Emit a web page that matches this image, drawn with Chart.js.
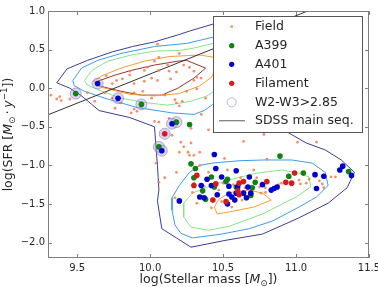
<!DOCTYPE html>
<html>
<head>
<meta charset="utf-8">
<script src="https://cdn.jsdelivr.net/npm/chart.js@4.4.0/dist/chart.umd.min.js"></script>
<style>
  html, body { margin: 0; padding: 0; background: #fff; }
  #wrap { width: 378px; height: 287px; }
</style>
</head>
<body>
<div id="wrap"><canvas id="myChart"></canvas></div>
<script>
// axis ticks
var xTicks = [9.5, 10.0, 10.5, 11.0, 11.5];
var yTicks = [-2.0, -1.5, -1.0, -0.5, 0.0, 0.5, 1.0];

var legendNames = ['Field', 'A399', 'A401', 'Filament', 'W2-W3>2.85', 'SDSS main seq.'];

// galaxies: [log M*, log SFR]
var field = [
    [9.32,-0.09],[9.36,-0.14],[9.38,-0.11],[9.39,-0.16],[9.45,-0.14],[9.57,-0.06],[9.62,-0.17],[9.69,-0.06],
    [9.70,0.16],[9.74,0.06],[9.74,-0.13],[9.76,-0.26],[9.77,0.10],[9.80,-0.19],[9.81,0.12],[9.86,0.22],
    [9.86,0.17],[9.87,-0.32],[9.89,0.06],[9.89,-0.06],[9.91,-0.30],[9.96,0.23],[9.96,0.09],[9.95,-0.04],
    [9.98,0.27],[10.01,0.13],[10.01,-0.13],[10.03,0.35],[10.05,0.57],[10.06,0.40],[10.06,0.23],[10.05,0.10],
    [10.10,-0.09],[10.12,0.30],[10.13,0.22],[10.14,0.12],[10.17,-0.15],[10.18,-0.19],[10.18,0.21],[10.20,0.45],
    [10.22,-0.17],[10.23,0.30],[10.25,-0.04],[10.27,0.27],[10.30,0.22],[10.30,0.10],[10.32,0.14],[10.32,-0.01],
    [10.35,0.13],[10.35,-0.34],[10.38,-0.13],
    [9.89,-0.27],[10.03,-0.43],[10.06,-0.44],[10.13,-0.39],[10.15,-0.61],[10.20,-0.23],[10.28,-0.52],[10.40,-0.54],
    [10.21,-0.70],[10.23,-0.76],[10.28,-0.71],[10.20,-0.83],[10.26,-0.83],[10.30,-0.87],[10.34,-1.00],[10.04,-0.97],
    [10.06,-1.22],[10.10,-1.16],[10.18,-1.09],[10.17,-1.42],
    [10.27,-0.87],[10.34,-0.83],[10.64,-0.69],[10.78,-0.60],[11.01,-0.70],[11.14,-0.70],[10.51,-0.91],[10.80,-0.92],
    [10.30,-1.23],[10.29,-1.35],[10.32,-1.49],[10.42,-1.55],[10.49,-1.47],[10.56,-1.54],[10.63,-1.45],[10.57,-1.25],
    [10.62,-1.16],[10.75,-1.28],[10.76,-1.36],[10.79,-1.29],[10.88,-1.25],[10.90,-1.23],[10.96,-1.16],[11.02,-1.19],
    [11.03,-1.24],[11.07,-1.23],[11.09,-1.18],[11.16,-1.20],[11.18,-1.24],[11.19,-1.29],[11.24,-1.15],[11.27,-1.15],
    [10.79,-1.35],[10.37,-1.27],[10.47,-1.32],[10.50,-1.23],[10.40,-1.09],[10.53,-1.06],[10.71,-1.06],[10.73,-1.16],
    [10.65,-1.29]
];
var a399 = [
    [9.49,-0.07],[9.94,-0.21],[10.18,-0.44],[10.27,-0.47],[10.06,-0.76],[10.28,-0.98],[10.31,-1.04],[10.42,-1.15],
    [10.30,-1.16],[10.53,-1.18],[10.36,-1.33],[10.38,-1.44],[10.44,-1.28],[10.52,-1.21],[10.89,-0.88],[10.95,-1.14],
    [11.05,-1.10],[11.36,-1.08],[10.72,-1.22],[10.70,-1.29],[10.69,-1.39],[10.59,-1.28]
];
var a401 = [
    [9.64,0.06],[9.78,-0.13],[10.15,-0.46],[10.08,-0.81],[10.44,-0.86],[10.45,-1.04],[10.39,-1.18],[10.49,-1.15],
    [10.59,-1.07],[10.42,-1.26],[10.54,-1.27],[10.20,-1.46],[10.34,-1.41],[10.37,-1.42],[10.46,-1.38],[10.35,-1.26],
    [10.53,-1.50],[10.59,-1.36],[10.60,-1.28],[10.54,-1.37],[10.68,-1.15],[10.77,-1.25],[10.66,-1.42],[10.69,-1.36],
    [10.64,-1.36],[10.56,-1.41],[10.58,-1.45],[10.85,-1.30],[10.87,-1.28],[10.83,-1.32],[11.13,-1.12],[11.19,-1.14],
    [11.14,-1.30],[11.30,-1.06],[11.32,-1.01],[11.38,-1.13],[10.67,-1.28]
];
var filament = [
    [10.10,-0.59],[10.32,-1.13],[10.45,-1.24],[10.30,-1.26],[10.43,-1.45],[10.52,-1.47],[10.61,-1.23],[10.64,-1.21],
    [10.80,-1.21],[10.60,-1.33],[10.93,-1.22],[10.97,-1.23],[10.99,-1.10],[10.61,-1.38]
];
var w2w3 = [
    [9.49,-0.07],[9.64,0.06],[9.78,-0.13],[9.94,-0.21],[10.15,-0.46],[10.18,-0.44],[10.10,-0.59],[10.06,-0.76],[10.08,-0.81]
];
var sdss = [[9.3,-0.345],[11.08,1.0]];

// density contours
var cPurple = [
    [10.55,0.90],[10.43,0.83],[10.27,0.74],[10.19,0.69],[10.03,0.60],[9.88,0.54],[9.74,0.47],[9.57,0.36],[9.43,0.25],
    [9.36,0.07],[9.45,0.00],[9.53,-0.10],[9.60,-0.21],[9.65,-0.29],[9.86,-0.38],[10.03,-0.50],[10.04,-0.76],
    [10.05,-1.00],[10.06,-1.32],[10.05,-1.46],[10.08,-1.82],[10.18,-1.94],[10.28,-2.06],[10.52,-1.97],[10.77,-1.89],
    [11.02,-1.68],[11.22,-1.49],[11.35,-1.29],[11.40,-1.09],[11.31,-0.93],[11.20,-0.80],[11.07,-0.71],[10.95,-0.58],
    [10.88,-0.48]
];
var cBlueUp = [
    [10.55,0.72],[10.43,0.66],[10.25,0.58],[10.03,0.54],[9.80,0.45],[9.64,0.36],[9.53,0.26],[9.47,0.10],[9.48,0.03],
    [9.55,-0.04],[9.69,-0.13],[9.91,-0.25],[10.15,-0.32],[10.30,-0.34],[10.37,-0.29],[10.43,-0.21],[10.49,-0.12],[10.55,-0.05]
];
var cGreenUp = [
    [10.50,0.60],[10.43,0.58],[10.30,0.52],[10.21,0.49],[10.03,0.48],[9.87,0.43],[9.71,0.35],[9.60,0.23],[9.55,0.10],
    [9.57,0.04],[9.67,-0.04],[9.80,-0.13],[9.98,-0.19],[10.12,-0.22],[10.28,-0.17],[10.39,-0.10],[10.43,-0.05],[10.50,0.02]
];
var cOrangeUp = [
    [10.50,0.40],[10.44,0.40],[10.34,0.43],[10.13,0.41],[9.96,0.35],[9.80,0.26],[9.67,0.16],[9.61,0.09],[9.67,0.01],
    [9.86,-0.08],[10.03,-0.10],[10.20,-0.07],[10.34,0.03],[10.42,0.14],[10.45,0.26],[10.50,0.32]
];
var cRedUp = [
    [10.38,0.26],[10.25,0.36],[10.19,0.35],[10.03,0.30],[9.87,0.23],[9.76,0.17],[9.64,0.09],[9.65,0.03],[9.80,-0.04],
    [9.94,-0.09],[10.08,-0.09],[10.19,0.00],[10.30,0.13],[10.38,0.26]
];
var cBlueLow = [
    [10.43,-0.97],[10.34,-1.00],[10.27,-1.09],[10.20,-1.26],[10.15,-1.42],[10.15,-1.58],[10.17,-1.77],[10.21,-1.88],
    [10.29,-1.94],[10.49,-1.89],[10.68,-1.82],[10.84,-1.72],[11.02,-1.54],[11.14,-1.41],[11.22,-1.26],[11.20,-1.09],
    [11.11,-0.97],[10.97,-0.93],[10.78,-0.93],[10.61,-0.94],[10.43,-0.97]
];
var cGreenLow = [
    [10.54,-1.19],[10.42,-1.26],[10.29,-1.36],[10.23,-1.49],[10.23,-1.67],[10.28,-1.80],[10.40,-1.84],[10.54,-1.79],
    [10.77,-1.63],[11.00,-1.41],[11.10,-1.28],[11.09,-1.15],[11.00,-1.09],[10.90,-1.06],[10.73,-1.10],[10.54,-1.19]
];
var cOrangeLow = [
    [10.77,-1.36],[10.68,-1.32],[10.55,-1.35],[10.47,-1.44],[10.44,-1.54],[10.46,-1.63],[10.55,-1.60],[10.71,-1.54],
    [10.83,-1.45],[10.77,-1.36]
];

var FONT = 'DejaVu Sans';
var colField = 'rgba(244,125,80,0.85)';
var colA399 = '#138013';
var colA401 = '#0000d0';
var colFil = '#d41a1a';
var colHalo = 'rgba(160,140,210,0.35)';
var colHaloEdge = 'rgba(140,120,190,0.6)';
var colSdss = '#333333';

function toXY(pts) {
    return pts.map(function (p) { return { x: p[0], y: p[1] }; });
}

function contour(pts, color) {
    return {
        data: toXY(pts),
        showLine: true,
        borderColor: color,
        borderWidth: 1,
        pointRadius: 0,
        fill: false,
        tension: 0,
        order: 10
    };
}

function fmt(v) {
    return v.toFixed(1).replace('-', '\u2212');
}

// draw a label made of normal / italic / sub / sup pieces, centred on x
function richText(ctx, parts, cx, cy, size) {
    function fontOf(kind) {
        var s = (kind == 'sub' || kind == 'sup') ? size * 0.7 : size;
        return (kind == 'i' ? 'italic ' : '') + s + 'px "' + FONT + '"';
    }
    var total = 0;
    parts.forEach(function (p) {
        ctx.font = fontOf(p[1]);
        total += ctx.measureText(p[0]).width;
    });
    var x = cx - total / 2;
    parts.forEach(function (p) {
        ctx.font = fontOf(p[1]);
        var dy = 0;
        if (p[1] == 'sub') dy = size * 0.25;
        if (p[1] == 'sup') dy = -size * 0.42;
        ctx.fillText(p[0], x, cy + dy);
        x += ctx.measureText(p[0]).width;
    });
}

var extras = {
    id: 'extras',
    afterDatasetsDraw: function (chart) {
        var ctx = chart.ctx;
        var a = chart.chartArea;
        var sx = chart.scales.x, sy = chart.scales.y;
        ctx.save();

        // frame + inward ticks
        ctx.strokeStyle = '#7f7f7f';
        ctx.lineWidth = 1;
        ctx.strokeRect(a.left + 0.5, a.top + 0.5, a.right - a.left - 1, a.bottom - a.top - 1);
        ctx.beginPath();
        xTicks.forEach(function (v) {
            var px = Math.round(sx.getPixelForValue(v)) + 0.5;
            ctx.moveTo(px, a.bottom); ctx.lineTo(px, a.bottom - 4);
            ctx.moveTo(px, a.top); ctx.lineTo(px, a.top + 4);
        });
        yTicks.forEach(function (v) {
            var py = Math.round(sy.getPixelForValue(v)) + 0.5;
            ctx.moveTo(a.left, py); ctx.lineTo(a.left + 4, py);
            ctx.moveTo(a.right, py); ctx.lineTo(a.right - 4, py);
        });
        ctx.stroke();

        // legend box
        var lx = 213.5, ly = 16.5, lw = 149, lh = 116;
        ctx.fillStyle = '#ffffff';
        ctx.fillRect(lx, ly, lw, lh);
        ctx.strokeStyle = '#555555';
        ctx.strokeRect(lx, ly, lw, lh);

        var rows = [26.7, 45.7, 64.3, 83.3, 102.3, 120.7];
        var mx = 231.7;
        ctx.fillStyle = colField;
        ctx.beginPath(); ctx.arc(mx, rows[0], 1.4, 0, Math.PI * 2); ctx.fill();
        [colA399, colA401, colFil].forEach(function (c, i) {
            ctx.fillStyle = c;
            ctx.beginPath(); ctx.arc(mx, rows[i + 1], 2.6, 0, Math.PI * 2); ctx.fill();
        });
        ctx.strokeStyle = '#c2b4dc';
        ctx.fillStyle = '#ffffff';
        ctx.beginPath(); ctx.arc(mx, rows[4], 4.5, 0, Math.PI * 2); ctx.fill(); ctx.stroke();
        ctx.strokeStyle = '#777777';
        ctx.lineWidth = 1.2;
        ctx.beginPath(); ctx.moveTo(219, rows[5]); ctx.lineTo(245, rows[5]); ctx.stroke();

        ctx.fillStyle = '#262626';
        ctx.font = '12.5px "' + FONT + '"';
        ctx.textBaseline = 'middle';
        ctx.textAlign = 'left';
        legendNames.forEach(function (t, i) {
            ctx.fillText(t, 255, rows[i]);
        });

        // axis titles
        ctx.textBaseline = 'alphabetic';
        ctx.fillStyle = '#262626';
        richText(ctx, [['log(Stellar mass [', 'n'], ['M', 'i'], ['\u2299', 'sub'], ['])', 'n']],
            (a.left + a.right) / 2, 283, 12.5);
        ctx.translate(12, (a.top + a.bottom) / 2);
        ctx.rotate(-Math.PI / 2);
        richText(ctx, [['log(SFR [', 'n'], ['M', 'i'], ['\u2299', 'sub'], ['\u2009\u00b7\u2009', 'n'],
            ['y', 'i'], ['\u22121', 'sup'], ['])', 'n']], 0, 0, 12.5);
        ctx.restore();
    }
};

var ctx = document.getElementById('myChart').getContext('2d');
var myChart = new Chart(ctx, {
    type: 'scatter',
    data: {
        datasets: [
            contour(cPurple, '#3c3c96'),
            contour(cBlueUp, '#3d9be9'),
            contour(cGreenUp, '#86e486'),
            contour(cOrangeUp, '#f5a030'),
            contour(cRedUp, '#993333'),
            contour(cBlueLow, '#3d9be9'),
            contour(cGreenLow, '#86e486'),
            contour(cOrangeLow, '#f5a030'),
            {
                data: toXY(sdss), showLine: true, borderColor: colSdss, borderWidth: 1,
                pointRadius: 0, order: 9
            },
            {
                data: toXY(field), pointRadius: 1.4, pointBackgroundColor: colField,
                pointBorderWidth: 0, order: 8
            },
            {
                data: toXY(w2w3), pointRadius: 5.5, pointBackgroundColor: colHalo,
                pointBorderColor: colHaloEdge, pointBorderWidth: 1, order: 7
            },
            {
                data: toXY(a399), pointRadius: 2.8, pointBackgroundColor: colA399,
                pointBorderWidth: 0, order: 6
            },
            {
                data: toXY(a401), pointRadius: 2.8, pointBackgroundColor: colA401,
                pointBorderWidth: 0, order: 5
            },
            {
                data: toXY(filament), pointRadius: 2.8, pointBackgroundColor: colFil,
                pointBorderWidth: 0, order: 4
            }
        ]
    },
    options: {
        responsive: true,
        maintainAspectRatio: false,
        animation: false,
        layout: { padding: { left: 0, right: 9, top: 11, bottom: 0 } },
        plugins: { legend: { display: false }, tooltip: { enabled: false } },
        scales: {
            x: {
                type: 'linear', min: 9.3, max: 11.5,
                grid: { display: false, drawTicks: false },
                border: { display: false },
                ticks: {
                    font: { family: FONT, size: 10 }, color: '#262626', padding: 4,
                    autoSkip: false, maxRotation: 0, callback: fmt
                },
                afterBuildTicks: function (s) { s.ticks = xTicks.map(function (v) { return { value: v }; }); },
                afterFit: function (s) { s.height = 29; s.paddingLeft = 0; s.paddingRight = 0; }
            },
            y: {
                type: 'linear', min: -2.2, max: 1.0,
                grid: { display: false, drawTicks: false },
                border: { display: false },
                ticks: {
                    font: { family: FONT, size: 10 }, color: '#262626', padding: 3,
                    autoSkip: false, callback: fmt
                },
                afterBuildTicks: function (s) { s.ticks = yTicks.map(function (v) { return { value: v }; }); },
                afterFit: function (s) { s.width = 48; s.paddingTop = 0; s.paddingBottom = 0; }
            }
        }
    },
    plugins: [extras]
});
</script>
</body>
</html>
